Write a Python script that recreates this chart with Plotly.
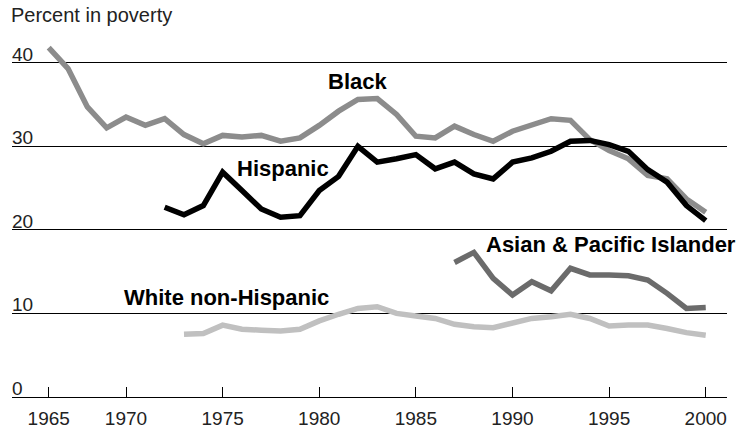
import plotly.graph_objects as go

years_black = list(range(1966, 2001))
black = [41.8, 39.3, 34.7, 32.2, 33.5, 32.5, 33.3, 31.4, 30.3, 31.3, 31.1, 31.3, 30.6, 31.0,
         32.5, 34.2, 35.6, 35.7, 33.8, 31.2, 31.0, 32.4, 31.4, 30.6, 31.8, 32.6, 33.3, 33.1,
         30.8, 29.5, 28.5, 26.5, 26.1, 23.7, 22.1]

years_hisp = list(range(1972, 2001))
hispanic = [22.7, 21.8, 22.9, 26.9, 24.7, 22.5, 21.5, 21.7, 24.7, 26.4, 30.0, 28.1, 28.5,
            29.0, 27.3, 28.1, 26.7, 26.1, 28.1, 28.6, 29.4, 30.6, 30.7, 30.2, 29.4, 27.2,
            25.7, 22.9, 21.1]

years_asian = list(range(1987, 2001))
asian = [16.1, 17.3, 14.2, 12.2, 13.8, 12.7, 15.4, 14.6, 14.6, 14.5, 14.0, 12.4, 10.6, 10.7]

years_white = list(range(1973, 2001))
white = [7.5, 7.6, 8.6, 8.1, 8.0, 7.9, 8.1, 9.1, 9.9, 10.6, 10.8, 10.0, 9.7, 9.4, 8.7,
         8.4, 8.3, 8.8, 9.4, 9.6, 9.9, 9.4, 8.5, 8.6, 8.6, 8.2, 7.7, 7.4]

tick_years = [1966, 1970, 1975, 1980, 1985, 1990, 1995, 2000]
tick_labels = ["1965", "1970", "1975", "1980", "1985", "1990", "1995", "2000"]
y_labels = [0, 10, 20, 30, 40]

series = [
    ("White non-Hispanic", years_white, white, "#c0c0c0"),
    ("Asian & Pacific Islander", years_asian, asian, "#6b6b6b"),
    ("Black", years_black, black, "#8c8c8c"),
    ("Hispanic", years_hisp, hispanic, "#000000"),
]

fig = go.Figure()
for name, xs, ys, col in series:
    fig.add_trace(go.Scatter(x=xs, y=ys, mode="lines", name=name,
                             line=dict(color=col, width=5.5), showlegend=False,
                             cliponaxis=False))

font_reg = dict(family="Liberation Sans, Arial, sans-serif", size=19, color="#222222")
font_title = dict(family="Liberation Sans, Arial, sans-serif", size=20, color="#222222")
font_bold = dict(family="Liberation Sans, Arial, sans-serif", size=22, color="#000000")

annotations = []
for v in y_labels:
    annotations.append(dict(x=0, xref="paper", y=v, yref="y", text=str(v),
                            showarrow=False, xanchor="left", yanchor="bottom",
                            font=font_reg, xshift=-2, yshift=-4))
annotations.append(dict(x=0, xref="paper", y=1, yref="paper", text="Percent in poverty",
                        showarrow=False, xanchor="left", yanchor="top",
                        font=font_title, xshift=-3, yshift=-2))
labels = [
    ("<b>Black</b>", 1982.0, 37.7),
    ("<b>Hispanic</b>", 1978.1, 27.3),
    ("<b>Asian &amp; Pacific Islander</b>", 1995.1, 18.2),
    ("<b>White non-Hispanic</b>", 1975.2, 11.9),
]
for t, x, y in labels:
    annotations.append(dict(x=x, y=y, xref="x", yref="y", text=t, showarrow=False,
                            xanchor="center", yanchor="middle", font=font_bold))

fig.update_layout(
    width=747, height=429,
    margin=dict(l=12, r=20, t=0, b=30),
    paper_bgcolor="white", plot_bgcolor="white",
    annotations=annotations,
    xaxis=dict(range=[1964.1, 2001.1], showgrid=False, zeroline=False,
               tickmode="array", tickvals=tick_years, ticktext=tick_labels,
               ticks="inside", ticklen=10, tickcolor="#000", tickwidth=1,
               ticklabelstandoff=8,
               showline=False, tickfont=font_reg, fixedrange=True),
    yaxis=dict(range=[0, 47.5], showticklabels=False, tickvals=y_labels,
               showgrid=True, gridcolor="#000", gridwidth=1, zeroline=True,
               zerolinecolor="#000", zerolinewidth=1.2, showline=False,
               fixedrange=True),
)

fig.write_html("out.html", config={"displayModeBar": False},
               post_script="document.body.style.margin='0';document.body.style.overflow='hidden';")
